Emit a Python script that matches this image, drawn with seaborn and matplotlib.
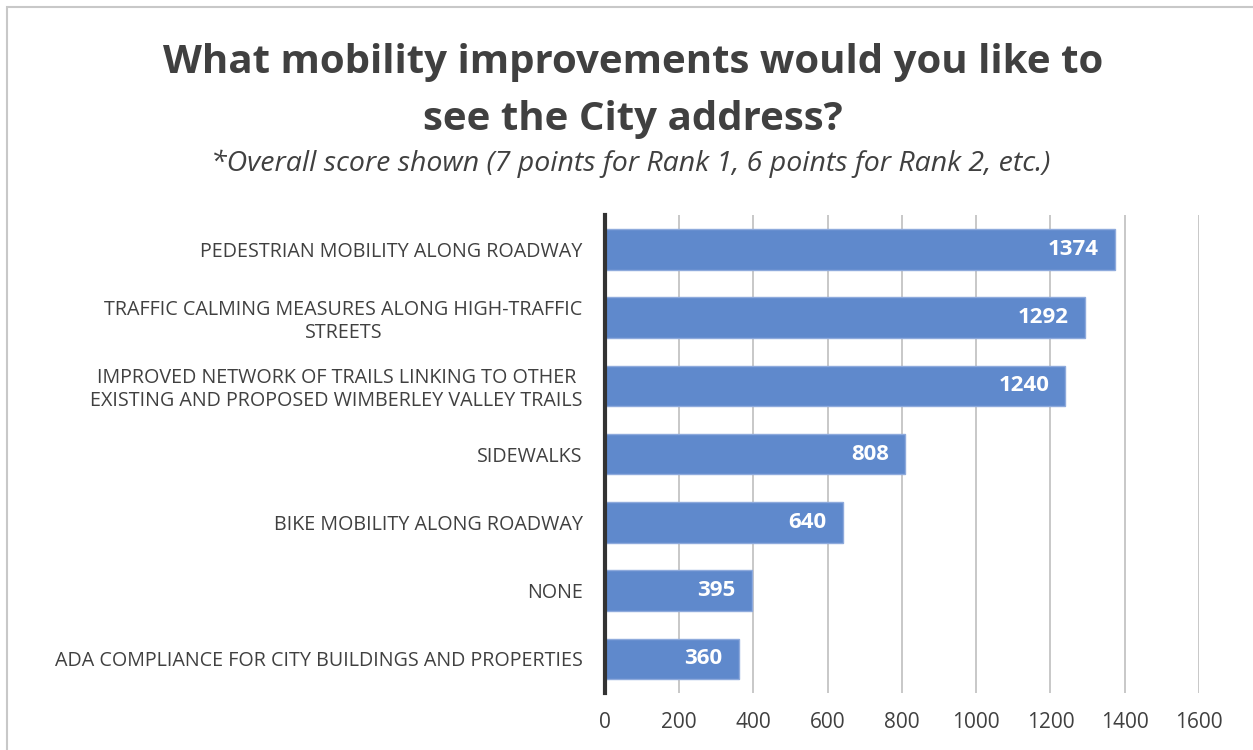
import matplotlib
matplotlib.use("Agg")
import matplotlib.pyplot as plt
import matplotlib.patches as patches
import pandas as pd
import seaborn as sns

categories = [
    "PEDESTRIAN MOBILITY ALONG ROADWAY",
    "TRAFFIC CALMING MEASURES ALONG HIGH-TRAFFIC\nSTREETS",
    "IMPROVED NETWORK OF TRAILS LINKING TO OTHER\nEXISTING AND PROPOSED WIMBERLEY VALLEY TRAILS",
    "SIDEWALKS",
    "BIKE MOBILITY ALONG ROADWAY",
    "NONE",
    "ADA COMPLIANCE FOR CITY BUILDINGS AND PROPERTIES",
]
scores = [1374, 1292, 1240, 808, 640, 395, 360]
xticks = [0, 200, 400, 600, 800, 1000, 1200, 1400, 1600]

df = pd.DataFrame({"category": categories, "score": scores})

sns.set_style("white")
plt.rcParams["font.family"] = ["Open Sans", "DejaVu Sans"]
text_col = "#404040"

fig = plt.figure(figsize=(12.53, 7.5), dpi=100)
ax = fig.add_axes([0.4828, 0.076, 0.4741, 0.637])

sns.barplot(data=df, y="category", x="score", orient="h", color="#5F89CC",
            saturation=1, width=0.59, edgecolor="#8EAADC", linewidth=1, ax=ax, zorder=2)

ax.set_xlim(0, 1600)
ax.set_ylim(6.5, -0.5)
ax.set_xticks(xticks)
ax.set_xticklabels([str(t) for t in xticks], fontsize=15, color=text_col)
ax.tick_params(axis="x", length=0, pad=14)
ax.tick_params(axis="y", length=0, pad=16)
for lab in ax.get_yticklabels():
    lab.set_fontsize(14.2)
    lab.set_color(text_col)
    lab.set_multialignment("center")
ax.set_xlabel("")
ax.set_ylabel("")
ax.xaxis.grid(True, color="#BFBFBF", linewidth=1.2, zorder=0)
ax.set_axisbelow(True)
for s in ["top", "right", "bottom"]:
    ax.spines[s].set_visible(False)
ax.spines["left"].set_color("#333333")
ax.spines["left"].set_linewidth(3)
ax.spines["left"].set_zorder(3)

for i, v in enumerate(scores):
    ax.text(v - 43, i, str(v), ha="right", va="center", color="white",
            fontsize=16, fontweight="bold", zorder=4)

fig.text(0.505, 0.879, "What mobility improvements would you like to\nsee the City address?",
         ha="center", va="center", fontsize=29, fontweight="bold", color=text_col,
         linespacing=1.6)
fig.text(0.5036, 0.781, "*Overall score shown (7 points for Rank 1, 6 points for Rank 2, etc.)",
         ha="center", va="center", fontsize=20.5, fontstyle="italic", color=text_col)

fig.patches.append(patches.Rectangle((7 / 1253, -0.1), 1.2, 1 - 7 / 750 + 0.1,
                                     transform=fig.transFigure, fill=False,
                                     edgecolor="#C8C8C8", linewidth=1.5))

fig.savefig("out.png", dpi=100, facecolor="white")
